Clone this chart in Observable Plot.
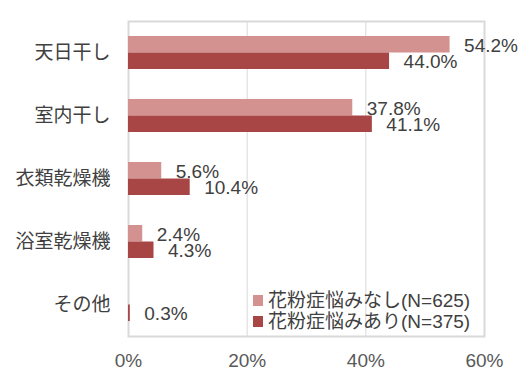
<!DOCTYPE html>
<html>
<head>
<meta charset="utf-8">
<script src="https://cdn.jsdelivr.net/npm/d3@7"></script>
<script src="https://cdn.jsdelivr.net/npm/@observablehq/plot@0.6"></script>
<style>
  html, body { margin: 0; padding: 0; background: #fff; }
  #wrap { position: relative; width: 520px; height: 390px; font-family: "Liberation Sans", Arial, "Noto Sans CJK JP", sans-serif; }
  #legend { position: absolute; left: 253px; top: 290px; font-size: 19px; color: #404040; line-height: 21px; }
  #legend .row { display: flex; align-items: center; white-space: nowrap; }
  #legend .sw { width: 10px; height: 11px; margin-right: 5px; }
</style>
</head>
<body>
<div id="wrap"></div>
<script>
const categories = ["天日干し", "室内干し", "衣類乾燥機", "浴室乾燥機", "その他"];
const seriesNames = ["花粉症悩みなし(N=625)", "花粉症悩みあり(N=375)"];
const valuesNashi = [54.2, 37.8, 5.6, 2.4, null];
const valuesAri = [44.0, 41.1, 10.4, 4.3, 0.3];
const xTicks = [0, 20, 40, 60];
const colors = ["#d39190", "#a84646"];

const rowsNashi = categories.map((c, i) => ({category: c, series: seriesNames[0], value: valuesNashi[i]})).filter(d => d.value != null);
const rowsAri = categories.map((c, i) => ({category: c, series: seriesNames[1], value: valuesAri[i]})).filter(d => d.value != null);

const half = 16.5;
const fmt = d => d.value.toFixed(1) + "%";

const chart = Plot.plot({
  width: 520,
  height: 390,
  marginLeft: 128,
  marginRight: 36,
  marginTop: 21,
  marginBottom: 54,
  style: {fontFamily: '"Liberation Sans", Arial, "Noto Sans CJK JP", sans-serif', fontSize: "19px", background: "#fff"},
  x: {domain: [0, 60]},
  y: {domain: categories, paddingInner: 0.476, paddingOuter: 0.238},
  marks: [
    Plot.gridX(xTicks.slice(1), {stroke: "#d9d9d9", strokeOpacity: 1, strokeWidth: 1}),
    Plot.frame({stroke: "#d9d9d9", strokeWidth: 2}),
    Plot.barX(rowsNashi, {x: "value", y: "category", fill: colors[0], insetBottom: half}),
    Plot.barX(rowsAri, {x: "value", y: "category", fill: colors[1], insetTop: half}),
    Plot.text(rowsNashi, {x: "value", y: "category", text: fmt, dx: 14, dy: -7, textAnchor: "start", fill: "#404040", fontSize: 19}),
    Plot.text(rowsAri, {x: "value", y: "category", text: fmt, dx: 14, dy: 9, textAnchor: "start", fill: "#404040", fontSize: 19}),
    Plot.axisX({ticks: xTicks, tickFormat: d => d + "%", tickSize: 0, tickPadding: 17, fill: "#595959", label: null, fontSize: 19}),
    Plot.axisY({tickSize: 0, tickPadding: 18, fill: "#404040", label: null, fontSize: 19})
  ]
});

const wrap = document.getElementById("wrap");
wrap.appendChild(chart);

const legend = document.createElement("div");
legend.id = "legend";
seriesNames.forEach((name, i) => {
  const row = document.createElement("div");
  row.className = "row";
  const sw = document.createElement("span");
  sw.className = "sw";
  sw.style.background = colors[i];
  const t = document.createElement("span");
  t.textContent = name;
  row.appendChild(sw);
  row.appendChild(t);
  legend.appendChild(row);
});
wrap.appendChild(legend);
</script>
</body>
</html>
